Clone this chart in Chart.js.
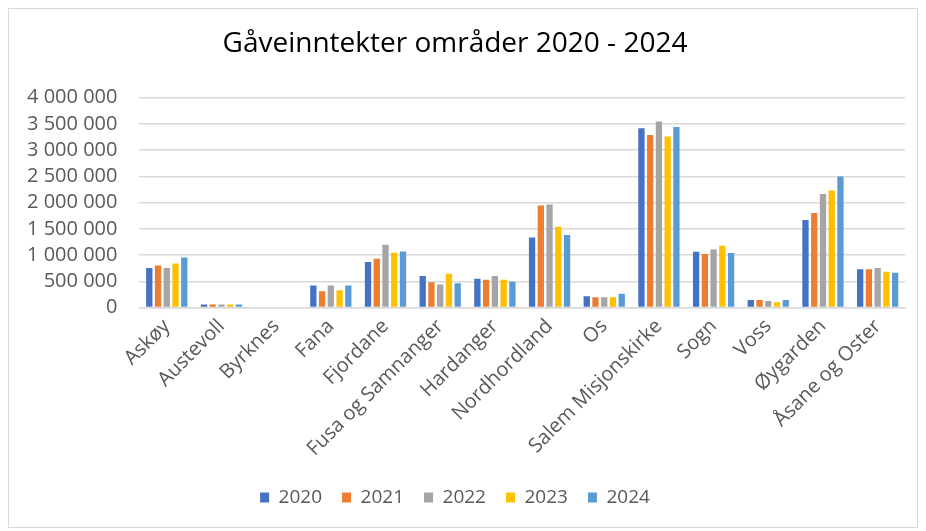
<!DOCTYPE html>
<html>
<head>
<meta charset="utf-8">
<script src="https://cdn.jsdelivr.net/npm/chart.js@4/dist/chart.umd.min.js"></script>
<style>
  html, body { margin: 0; padding: 0; background: #fff; }
  #wrap { position: relative; width: 926px; height: 531px; }
  #frame { position: absolute; left: 8px; top: 8px; width: 910px; height: 520px; border: 1px solid #d9d9d9; box-sizing: border-box; pointer-events: none; }
  canvas { position: absolute; left: 0; top: 0; }
</style>
</head>
<body>
<div id="wrap">
  <canvas id="c" width="926" height="531"></canvas>
  <div id="frame"></div>
</div>
<script>
const categories = ["Askøy", "Austevoll", "Byrknes", "Fana", "Fjordane", "Fusa og Samnanger", "Hardanger", "Nordhordland", "Os", "Salem Misjonskirke", "Sogn", "Voss", "Øygarden", "Åsane og Oster"];
const years = ["2020", "2021", "2022", "2023", "2024"];
const v2020 = [753000, 57000, 0, 420000, 867000, 600000, 548000, 1337000, 218000, 3414000, 1064000, 147000, 1669000, 733000];
const v2021 = [802000, 57000, 0, 313000, 930000, 485000, 529000, 1943000, 199000, 3286000, 1020000, 147000, 1803000, 733000];
const v2022 = [753000, 57000, 0, 420000, 1198000, 440000, 600000, 1962000, 199000, 3547000, 1108000, 128000, 2166000, 753000];
const v2023 = [840000, 57000, 0, 332000, 1045000, 644000, 529000, 1541000, 199000, 3261000, 1179000, 103000, 2229000, 682000];
const v2024 = [955000, 57000, 0, 420000, 1070000, 466000, 491000, 1383000, 262000, 3438000, 1039000, 147000, 2497000, 663000];
const yTicks = [0, 500000, 1000000, 1500000, 2000000, 2500000, 3000000, 3500000, 4000000];
const colors = ["#4472C4", "#ED7D31", "#A5A5A5", "#FFC000", "#5B9BD5"];
const series = [v2020, v2021, v2022, v2023, v2024];

const fmt = n => String(n).replace(/\B(?=(\d{3})+(?!\d))/g, " ");
const FONT = "'Open Sans', 'Noto Sans', sans-serif";

new Chart(document.getElementById('c'), {
  type: 'bar',
  data: {
    labels: categories,
    datasets: years.map((y, i) => ({
      label: y,
      data: series[i],
      backgroundColor: colors[i],
      borderWidth: 0,
      categoryPercentage: 0.8,
      barPercentage: 0.72
    }))
  },
  options: {
    responsive: false,
    animation: false,
    devicePixelRatio: 1,
    layout: { padding: { left: 5, right: 21, top: 0, bottom: 14 } },
    plugins: {
      title: {
        display: true,
        text: "Gåveinntekter områder 2020 - 2024",
        color: "#000",
        font: { family: FONT, size: 28, weight: 'normal' },
        padding: { top: 27, bottom: 37 }
      },
      legend: {
        position: 'bottom',
        labels: {
          color: "#595959",
          font: { family: FONT, size: 19 },
          boxWidth: 9,
          boxHeight: 10,
          padding: 20
        }
      },
      tooltip: { enabled: false }
    },
    scales: {
      x: {
        grid: { display: false, drawTicks: false },
        border: { display: true, color: "#d9d9d9", width: 1.5 },
        afterFit: s => { s.paddingLeft = 0; s.paddingRight = 0; },
        ticks: {
          color: "#595959",
          font: { family: FONT, size: 20 },
          maxRotation: 45,
          minRotation: 45,
          autoSkip: false,
          padding: 7
        }
      },
      y: {
        min: 0,
        max: 4000000,
        afterBuildTicks: axis => { axis.ticks = yTicks.map(v => ({ value: v })); },
        grid: { color: "#d9d9d9", lineWidth: 1.5, drawTicks: false },
        border: { display: false },
        ticks: {
          color: "#595959",
          font: { family: FONT, size: 20 },
          padding: 22,
          autoSkip: false,
          callback: v => fmt(v)
        }
      }
    }
  }
});
</script>
</body>
</html>
